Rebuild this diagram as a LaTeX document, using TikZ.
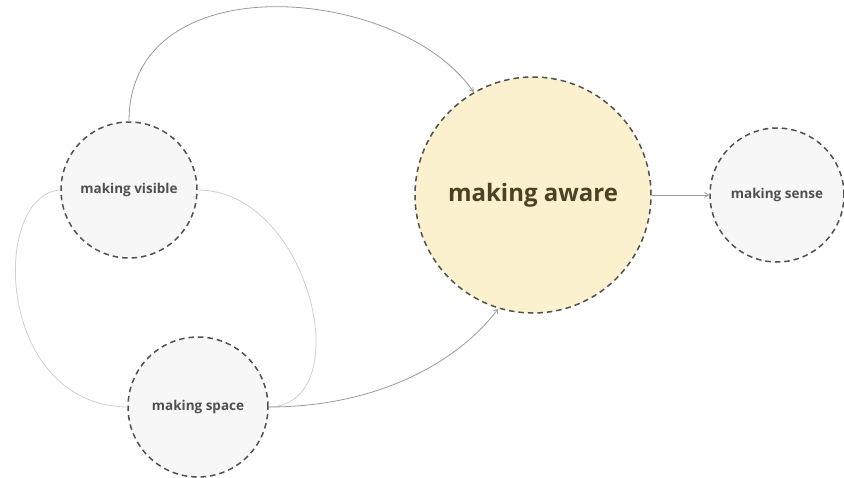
\documentclass[tikz,border=0pt]{standalone}
\usepackage{fontspec}
\setmainfont{Open Sans}
\usetikzlibrary{arrows.meta}
\definecolor{ringgray}{HTML}{505050}
\definecolor{softfill}{HTML}{F7F7F7}
\definecolor{awarefill}{HTML}{FCF1CF}
\definecolor{awaretext}{HTML}{4A4222}
\definecolor{linkgray}{HTML}{9A9A9A}
\definecolor{loopgray}{HTML}{CFCFCF}
\begin{document}
\begin{tikzpicture}[x=1pt,y=-1pt,
	phase node/.style={circle,draw=ringgray,line width=1.5pt,dash pattern=on 5.5pt off 4pt,fill=softfill,inner sep=0pt,text=ringgray,font=\bfseries\fontsize{13.5}{16}\selectfont},
	focus node/.style={phase node,fill=awarefill,text=awaretext,font=\bfseries\fontsize{24}{28}\selectfont},
	link/.style={draw=linkgray,line width=0.8pt,-{Straight Barb[length=4pt,width=5pt]}},
	loop link/.style={draw=loopgray,line width=0.8pt}
]
	\useasboundingbox (0,0) rectangle (844,477);

	\node[phase node,minimum size=136pt] (visible) at (129,190) {making visible};
	\node[phase node,minimum size=140pt] (space) at (198,407) {making space};
	\node[focus node,minimum size=236pt] (aware) at (533,195) {making aware};
	\node[phase node,minimum size=134pt] (sense) at (777,195) {making sense};

	% loops between visible and space
	\draw[loop link] (visible.west) .. controls (-10,195) and (-5,405) .. (space.west);
	\draw[loop link] (visible.east) .. controls (310,190) and (360,405) .. (space.east);

	% links into and out of aware
	\draw[link] (visible.north) .. controls (129,-38) and (400,-15) .. (aware.120);
	\draw[link] (space.east) .. controls (380,407) and (460,360) .. (aware.253);
	\draw[link] (aware.east) -- (sense.west);
\end{tikzpicture}
\end{document}
